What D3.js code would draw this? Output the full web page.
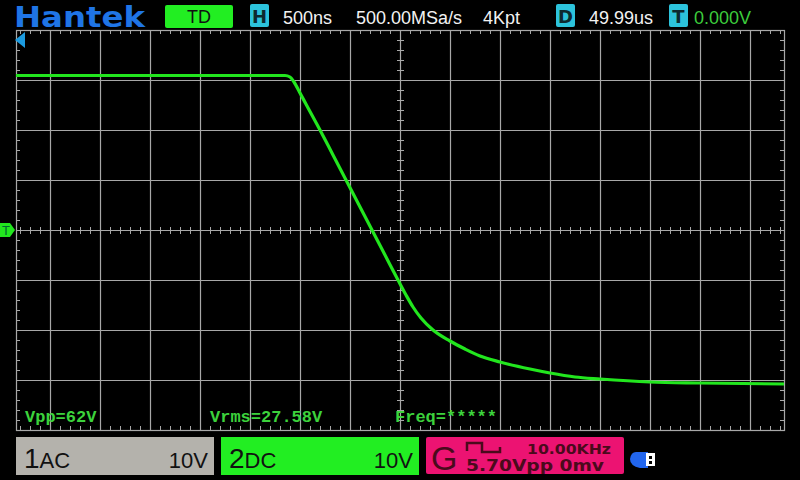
<!DOCTYPE html>
<html><head><meta charset="utf-8">
<script src="https://cdn.jsdelivr.net/npm/d3@7"></script>
<style>html,body{margin:0;padding:0;background:#000;}svg{display:block;}</style>
</head><body>
<svg id="c" width="800" height="480"></svg>
<script>
// ---- data (time in ns relative to screen centre, voltage in V) ----
const timeNs = [-3840,-1150,-1100,-1060,-1000,-930,-800,-670,-540,-410,-280,-150,-20,60,130,210,330,500,650,800,1000,1300,1500,1750,2000,2500,3000,3840];
const volts  = [30.9,30.9,30.6,29.6,27.4,24.8,20,15,10,5,0,-5,-10,-13,-15.4,-17.6,-20,-22.2,-23.8,-25.2,-26.4,-27.8,-28.6,-29.4,-29.8,-30.4,-30.6,-30.8];
const headerItems = ["500ns","500.00MSa/s","4Kpt","49.99us","0.000V"];
const measurements = ["Vpp=62V","Vrms=27.58V","Freq=*****"];
const channelLabels = ["1","AC","10V","2","DC","10V"];
const genLabels = ["G","10.00KHz","5.70Vpp 0mv"];

const svg = d3.select("#c");
svg.append("rect").attr("width",800).attr("height",480).attr("fill","#000");

const x = d3.scaleLinear().domain([-3840,3840]).range([16,784]);
const y = d3.scaleLinear().domain([-40,40]).range([430,30]);
const gridCol = "#a8a8a8";

// major grid
const g = svg.append("g");
const majorX = d3.range(-3500,3501,500);
const majorY = d3.range(-30,31,10);
g.selectAll(".vx").data(majorX).join("line")
  .attr("x1",d=>Math.round(x(d))+0.5).attr("x2",d=>Math.round(x(d))+0.5)
  .attr("y1",y(40)).attr("y2",y(-40)).attr("stroke",gridCol).attr("stroke-width",1.2);
g.selectAll(".hy").data(majorY).join("line")
  .attr("y1",d=>Math.round(y(d))+0.5).attr("y2",d=>Math.round(y(d))+0.5)
  .attr("x1",x(-3840)).attr("x2",x(3840)).attr("stroke",gridCol).attr("stroke-width",1.2);
// border
g.append("rect").attr("x",x(-3840)+0.5).attr("y",y(40)+0.5)
  .attr("width",x(3840)-x(-3840)).attr("height",y(-40)-y(40))
  .attr("fill","none").attr("stroke",gridCol).attr("stroke-width",1.2);

// minor ticks
const minorX = d3.range(-3800,3801,100).filter(d=>d%500!==0);
const minorY = d3.range(-38,39,2).filter(d=>d%10!==0);
const tl = 4;
g.selectAll(".mt").data(minorX).join("line")
  .attr("x1",d=>Math.round(x(d))+0.5).attr("x2",d=>Math.round(x(d))+0.5)
  .attr("y1",y(40)).attr("y2",y(40)+tl).attr("stroke",gridCol);
g.selectAll(".mb").data(minorX).join("line")
  .attr("x1",d=>Math.round(x(d))+0.5).attr("x2",d=>Math.round(x(d))+0.5)
  .attr("y1",y(-40)).attr("y2",y(-40)-tl).attr("stroke",gridCol);
g.selectAll(".ml").data(minorY).join("line")
  .attr("y1",d=>Math.round(y(d))+0.5).attr("y2",d=>Math.round(y(d))+0.5)
  .attr("x1",x(-3840)).attr("x2",x(-3840)+tl).attr("stroke",gridCol);
g.selectAll(".mr").data(minorY).join("line")
  .attr("y1",d=>Math.round(y(d))+0.5).attr("y2",d=>Math.round(y(d))+0.5)
  .attr("x1",x(3840)).attr("x2",x(3840)-tl).attr("stroke",gridCol);
g.selectAll(".mcx").data(minorX).join("line")
  .attr("x1",d=>Math.round(x(d))+0.5).attr("x2",d=>Math.round(x(d))+0.5)
  .attr("y1",y(0)-3).attr("y2",y(0)+4).attr("stroke",gridCol);
g.selectAll(".mcy").data(minorY).join("line")
  .attr("y1",d=>Math.round(y(d))+0.5).attr("y2",d=>Math.round(y(d))+0.5)
  .attr("x1",x(0)-3).attr("x2",x(0)+4).attr("stroke",gridCol);

// trace
const pts = timeNs.map((t,i)=>[t,volts[i]]);
svg.append("path").datum(pts)
  .attr("d",d3.line().x(d=>x(d[0])).y(d=>y(d[1])).curve(d3.curveMonotoneX))
  .attr("fill","none").attr("stroke","#22e61e").attr("stroke-width",3.2);

// left markers
svg.append("path").attr("d","M15,40 L25,32 L25,48 Z").attr("fill","#1c9be0");
const ty = y(0);
svg.append("path").attr("d",`M0,${ty-7} L10,${ty-7} L15,${ty} L10,${ty+7} L0,${ty+7} Z`).attr("fill","#22e61e");
svg.append("text").attr("x",6).attr("y",ty+5).attr("text-anchor","middle")
  .attr("font-family","Liberation Sans").attr("font-size",13).attr("fill","#063").text("T");

// measurements
const mx = [25,210,395];
svg.selectAll(".meas").data(measurements).join("text")
  .attr("x",(d,i)=>mx[i]).attr("y",422)
  .attr("font-family","Liberation Mono").attr("font-weight","bold").attr("font-size",17)
  .attr("fill","#3cd23c").text(d=>d);

// header
svg.append("text").attr("x",14).attr("y",27).attr("font-family","DejaVu Sans")
  .attr("font-weight","bold").attr("font-size",28).attr("fill","#1f75e6")
  .attr("textLength",131).attr("lengthAdjust","spacingAndGlyphs").text("Hantek");
svg.append("rect").attr("x",165).attr("y",5).attr("width",68).attr("height",23).attr("rx",2).attr("fill","#22ee22");
svg.append("text").attr("x",199).attr("y",23).attr("text-anchor","middle")
  .attr("font-family","Liberation Sans").attr("font-size",18).attr("fill","#111").text("TD");
const boxes = [["H",250],["D",556],["T",669]];
boxes.forEach(([l,bx])=>{
  svg.append("rect").attr("x",bx).attr("y",4).attr("width",19).attr("height",23).attr("rx",2).attr("fill","#2cc3dc");
  svg.append("text").attr("x",bx+9.5).attr("y",23).attr("text-anchor","middle")
    .attr("font-family","DejaVu Sans").attr("font-weight","bold").attr("font-size",18).attr("fill","#0d2a30").text(l);
});
const hx = [283,356,483,589,694];
svg.selectAll(".hdr").data(headerItems).join("text")
  .attr("x",(d,i)=>hx[i]).attr("y",24)
  .attr("font-family","Liberation Sans").attr("font-size",18)
  .attr("fill",(d,i)=>i===4?"#3ccc3c":"#f2f2f2").text(d=>d);

// bottom channel boxes
function chBox(x0,fill,num,cpl,scale){
  svg.append("rect").attr("x",x0).attr("y",437).attr("width",198).attr("height",38).attr("fill",fill);
  const t = svg.append("text").attr("x",x0+8).attr("y",468).attr("font-family","Liberation Sans").attr("fill","#111");
  t.append("tspan").attr("font-size",28).text(num);
  t.append("tspan").attr("font-size",22).text(cpl);
  svg.append("text").attr("x",x0+192).attr("y",468).attr("text-anchor","end")
    .attr("font-family","Liberation Sans").attr("font-size",22).attr("fill","#111").text(scale);
}
chBox(16,"#b4b2ac",channelLabels[0],channelLabels[1],channelLabels[2]);
chBox(221,"#22ee22",channelLabels[3],channelLabels[4],channelLabels[5]);

// generator box
svg.append("rect").attr("x",426).attr("y",437).attr("width",198).attr("height",37).attr("rx",2).attr("fill","#ec1372");
svg.append("text").attr("x",431).attr("y",470).attr("font-family","Liberation Sans")
  .attr("font-size",34).attr("fill","#4a0a1c").text(genLabels[0]);
svg.append("path").attr("d","M467,451 L467,443 L482,443 L482,452 L500,452 L500,447")
  .attr("fill","none").attr("stroke","#4a0a1c").attr("stroke-width",2.5);
svg.append("text").attr("x",527).attr("y",454).attr("font-family","DejaVu Sans")
  .attr("font-weight","bold").attr("font-size",14).attr("fill","#4a0a1c")
  .attr("textLength",84).attr("lengthAdjust","spacingAndGlyphs").text(genLabels[1]);
svg.append("text").attr("x",466).attr("y",471).attr("font-family","DejaVu Sans")
  .attr("font-weight","bold").attr("font-size",15).attr("fill","#4a0a1c")
  .attr("textLength",138).attr("lengthAdjust","spacingAndGlyphs").text(genLabels[2]);

// usb icon
svg.append("path").attr("d","M636,452 L648,452 L648,468 L640,468 Q630,466 630,459 Q631,452 636,452 Z").attr("fill","#2266ee");
svg.append("rect").attr("x",646).attr("y",453).attr("width",9).attr("height",13).attr("fill","#fff");
svg.append("rect").attr("x",649).attr("y",456).attr("width",3).attr("height",3).attr("fill","#000");
svg.append("rect").attr("x",649).attr("y",461).attr("width",3).attr("height",3).attr("fill","#000");
</script>
</body></html>
